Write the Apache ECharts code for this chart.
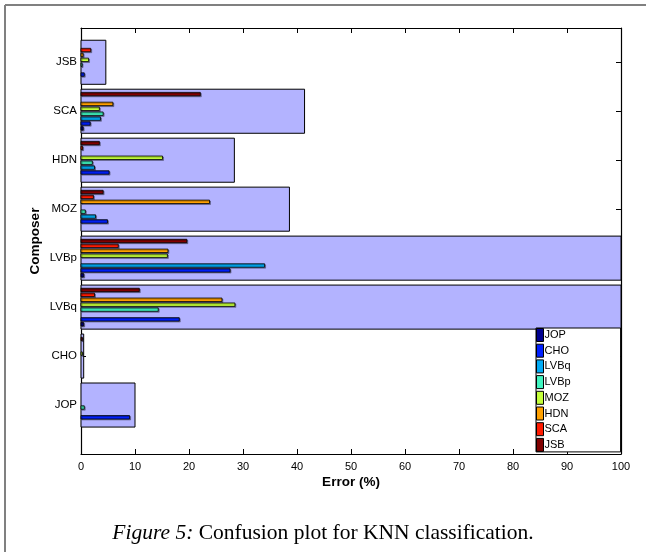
<!DOCTYPE html>
<html>
<head>
<meta charset="utf-8">
<script src="https://cdn.jsdelivr.net/npm/echarts@6/dist/echarts.min.js"></script>
<style>
html,body{margin:0;padding:0;background:#fff;}
#chart{width:646px;height:552px;}
</style>
</head>
<body>
<div id="chart"></div>
<script>
// Composers (true class), bottom to top
const composers = ['JOP', 'CHO', 'LVBq', 'LVBp', 'MOZ', 'HDN', 'SCA', 'JSB'];
// Total error per composer (%)
const totalError = [10.0, 0.5, 100.9, 120.7, 38.6, 28.4, 41.4, 4.6];
// Error attributed to each predicted class, per composer (same order as composers)
const predJOP  = [0, 0, 0.5, 0.5, 0, 0, 0.4, 0];
const predCHO  = [9.0, 0, 18.2, 27.6, 4.9, 5.2, 1.7, 0.6];
const predLVBq = [0, 0, 0, 34.0, 2.7, 2.5, 3.6, 0];
const predLVBp = [0.6, 0, 14.3, 0, 0.8, 2.1, 4.1, 0.2];
const predMOZ  = [0, 0.25, 28.5, 16.0, 0, 15.1, 3.4, 1.4];
const predHDN  = [0, 0, 26.1, 16.1, 23.8, 0, 5.9, 0.4];
const predSCA  = [0, 0, 2.5, 6.9, 2.3, 0.3, 0, 1.8];
const predJSB  = [0, 0.25, 10.8, 19.6, 4.1, 3.4, 22.1, 0];
const xTicks = [0, 10, 20, 30, 40, 50, 60, 70, 80, 90, 100];

const predSeries = [predJOP, predCHO, predLVBq, predLVBp, predMOZ, predHDN, predSCA, predJSB];
const colors = ['#00008f', '#0020ff', '#00aaf5', '#40f5c0', '#c4ff3a', '#ffa000', '#ff1a00', '#800000'];

const chart = echarts.init(document.getElementById('chart'));

function clipTo(params, r) {
  const cs = params.coordSys;
  return echarts.graphic.clipRectByRect(r, {x: cs.x, y: cs.y, width: cs.width, height: cs.height});
}

function bigRender(params, api) {
  const v = api.value(0), row = api.value(1);
  const p0 = api.coord([0, row + 0.45]);
  const p1 = api.coord([v, row - 0.45]);
  const r = clipTo(params, {x: p0[0], y: p0[1], width: p1[0] - p0[0], height: p1[1] - p0[1]});
  return r && {type: 'rect', shape: r, style: {fill: '#b3b3ff', stroke: '#000', lineWidth: 1}};
}

function thinRenderFactory(k) {
  return function (params, api) {
    const v = api.value(0), row = api.value(1);
    if (!v) return;
    const off = -0.35 + 0.1 * k;
    const p0 = api.coord([0, row + off + 0.035]);
    const p1 = api.coord([v, row + off - 0.035]);
    const r = clipTo(params, {x: p0[0], y: p0[1], width: p1[0] - p0[0], height: p1[1] - p0[1]});
    return r && {type: 'rect', shape: r, style: {fill: api.visual('color'), stroke: '#000', lineWidth: 0.8,
      shadowColor: 'rgba(0,0,0,0.35)', shadowOffsetX: 1, shadowOffsetY: 1, shadowBlur: 0}};
  };
}

const series = [{
  type: 'custom',
  name: 'total',
  renderItem: bigRender,
  itemStyle: {color: '#b3b3ff'},
  data: totalError.map((v, i) => [v, i + 1]),
  z: 1
}];
predSeries.forEach((arr, k) => {
  series.push({
    type: 'custom',
    name: composers[k],
    renderItem: thinRenderFactory(k),
    itemStyle: {color: colors[k]},
    data: arr.map((v, i) => [v, i + 1]),
    z: 2
  });
});

const axisFont = {fontFamily: 'Liberation Sans, Arial, sans-serif', color: '#000'};
function tickIn() { return {show: true, inside: true, length: 5, lineStyle: {color: '#000', width: 1}}; }
function axLine() { return {show: true, onZero: false, lineStyle: {color: '#000', width: 1.2}}; }

chart.setOption({
  animation: false,
  backgroundColor: '#fff',
  grid: {left: 81, right: 25, top: 28, bottom: 98, containLabel: false},
  xAxis: [{
    type: 'value', min: xTicks[0], max: xTicks[xTicks.length - 1], interval: 10,
    position: 'bottom',
    name: 'Error (%)', nameLocation: 'middle', nameGap: 21, nameMoveOverlap: false,
    nameTextStyle: Object.assign({fontSize: 13.5, fontWeight: 'bold'}, axisFont),
    axisLine: axLine(),
    axisTick: tickIn(),
    axisLabel: Object.assign({fontSize: 11, margin: 7}, axisFont),
    splitLine: {show: false}
  }, {
    type: 'value', min: xTicks[0], max: xTicks[xTicks.length - 1], interval: 10,
    position: 'top',
    axisLine: axLine(),
    axisTick: tickIn(),
    axisLabel: {show: false},
    splitLine: {show: false}
  }],
  yAxis: [{
    type: 'value', min: 0, max: 8.7, interval: 1,
    position: 'left',
    name: 'Composer', nameLocation: 'middle', nameGap: 39, nameRotate: 90, nameMoveOverlap: false,
    nameTextStyle: Object.assign({fontSize: 13.5, fontWeight: 'bold'}, axisFont),
    axisLine: axLine(),
    axisTick: tickIn(),
    axisLabel: Object.assign({fontSize: 11.5, margin: 4, showMaxLabel: false,
      formatter: v => (Number.isInteger(v) && v >= 1 && v <= composers.length) ? composers[v - 1] : ''}, axisFont),
    splitLine: {show: false}
  }, {
    type: 'value', min: 0, max: 8.7, interval: 1,
    position: 'right',
    axisLine: axLine(),
    axisTick: tickIn(),
    axisLabel: {show: false},
    splitLine: {show: false}
  }],
  legend: {
    data: composers,
    orient: 'vertical',
    left: 536, top: 328,
    itemWidth: 7, itemHeight: 13, itemGap: 1.7,
    padding: [0, 50, 0, 0],
    backgroundColor: '#fff', borderColor: '#000', borderWidth: 1,
    icon: 'rect',
    itemStyle: {borderColor: '#000', borderWidth: 1},
    textStyle: Object.assign({fontSize: 11, padding: [0, 0, 0, -4]}, axisFont),
    selectedMode: false
  },
  graphic: [
    {type: 'line', shape: {x1: 5, y1: 5, x2: 646, y2: 5}, style: {stroke: '#808080', lineWidth: 2}},
    {type: 'line', shape: {x1: 5, y1: 5, x2: 5, y2: 552}, style: {stroke: '#808080', lineWidth: 2}},
    {type: 'text', left: 'center', top: 522, style: {
      text: '{i|Figure 5:} Confusion plot for KNN classification.',
      font: '21.5px "Liberation Serif", serif', fill: '#000',
      rich: {i: {fontStyle: 'italic', fontFamily: 'Liberation Serif', fontSize: 21.5}}
    }}
  ],
  series: series
});
</script>
</body>
</html>
